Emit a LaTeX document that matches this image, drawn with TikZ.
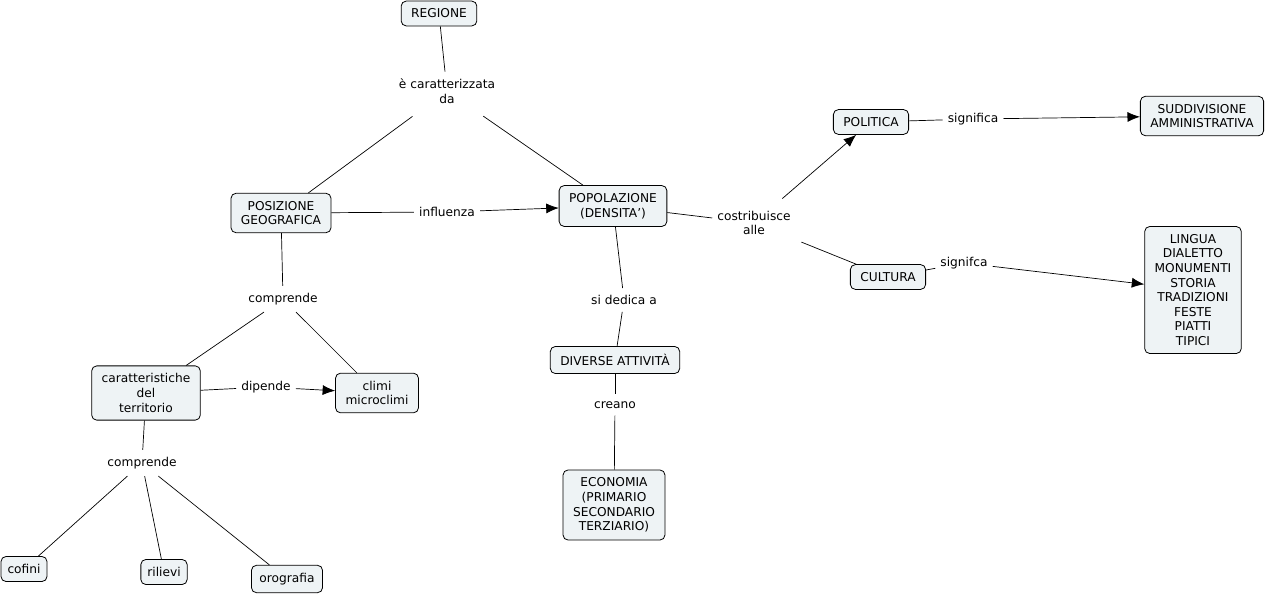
\documentclass[tikz,border=0pt]{standalone}
\usepackage{fontspec}
\setmainfont{DejaVu Sans}
\usetikzlibrary{arrows.meta}
\definecolor{boxfill}{RGB}{238,243,245}
\tikzset{
  concept/.style={draw, rounded corners=5pt, fill=boxfill, align=center,
    inner xsep=10pt, inner ysep=7.8pt, line width=0.8pt},
  linkphr/.style={align=center, inner xsep=5pt, inner ysep=7pt},
  conn/.style={line width=0.7pt},
  arr/.style={line width=0.7pt, -{Latex[length=12.5pt,width=10pt]}}
}
\begin{document}
\begin{tikzpicture}[x=1pt,y=-1pt,font=\fontsize{12.2}{14.6}\selectfont]
\useasboundingbox (0,0) rectangle (1269,595);

\node[concept] (regione) at (439,13.5) {REGIONE};
\node[linkphr] (caratt) at (447,91) {è caratterizzata\\da};
\node[concept] (posiz) at (281,213) {POSIZIONE\\GEOGRAFICA};
\node[concept] (popol) at (613,206) {POPOLAZIONE\\(DENSITA')};
\node[linkphr] (influ) at (447,212) {influenza};
\node[linkphr] (costr) at (754,223) {costribuisce\\alle};
\node[concept] (politica) at (871,122) {POLITICA};
\node[linkphr] (signif) at (973,119) {significa};
\node[concept] (suddiv) at (1202,116) {SUDDIVISIONE\\AMMINISTRATIVA};
\node[concept] (cultura) at (888,277) {CULTURA};
\node[linkphr] (signifca) at (964,263) {signifca};
\node[concept] (lingua) at (1193,290) {LINGUA\\DIALETTO\\MONUMENTI\\STORIA\\TRADIZIONI\\FESTE\\PIATTI\\TIPICI};
\node[linkphr] (dedica) at (624,300) {si dedica a};
\node[concept] (attiv) at (615,360) {DIVERSE ATTIVITÀ};
\node[linkphr] (creano) at (615,405) {creano};
\node[concept] (econ) at (614,505) {ECONOMIA\\(PRIMARIO\\SECONDARIO\\TERZIARIO)};
\node[linkphr] (compr) at (283,299) {comprende};
\node[concept] (caratter) at (146,393) {caratteristiche\\del\\territorio};
\node[linkphr] (dipende) at (266,387) {dipende};
\node[concept] (climi) at (377,393) {climi\\microclimi};
\node[linkphr] (comprb) at (142,463) {comprende};
\node[concept, inner xsep=6.5pt] (cofini) at (24,569) {cofini};
\node[concept, inner xsep=6.5pt] (rilievi) at (164,572) {rilievi};
\node[concept, inner xsep=8pt] (orogr) at (287,579) {orografia};

\draw[conn] (regione) -- (caratt);
\draw[conn, shorten <=10pt] (caratt) -- (posiz);
\draw[conn, shorten <=10pt] (caratt) -- (popol);
\draw[conn] (posiz) -- (influ);
\draw[arr] (influ) -- (popol);
\draw[conn] (popol) -- (costr);
\draw[arr, shorten <=8pt] (costr) -- (politica);
\draw[conn, shorten <=6pt] (costr) -- (cultura);
\draw[conn] (politica) -- (signif);
\draw[arr] (signif) -- (suddiv);
\draw[conn] (cultura) -- (signifca);
\draw[arr] (signifca) -- (lingua);
\draw[conn] (popol) -- (dedica);
\draw[conn] (dedica) -- (attiv);
\draw[conn] (attiv) -- (creano);
\draw[conn] (creano) -- (econ);
\draw[conn] (posiz) -- (compr);
\draw[conn] (compr) -- (caratter);
\draw[conn] (compr) -- (climi);
\draw[conn] (caratter) -- (dipende);
\draw[arr] (dipende) -- (climi);
\draw[conn] (caratter) -- (comprb);
\draw[conn] (comprb) -- (cofini);
\draw[conn] (comprb) -- (rilievi);
\draw[conn] (comprb) -- (orogr);
\end{tikzpicture}
\end{document}
